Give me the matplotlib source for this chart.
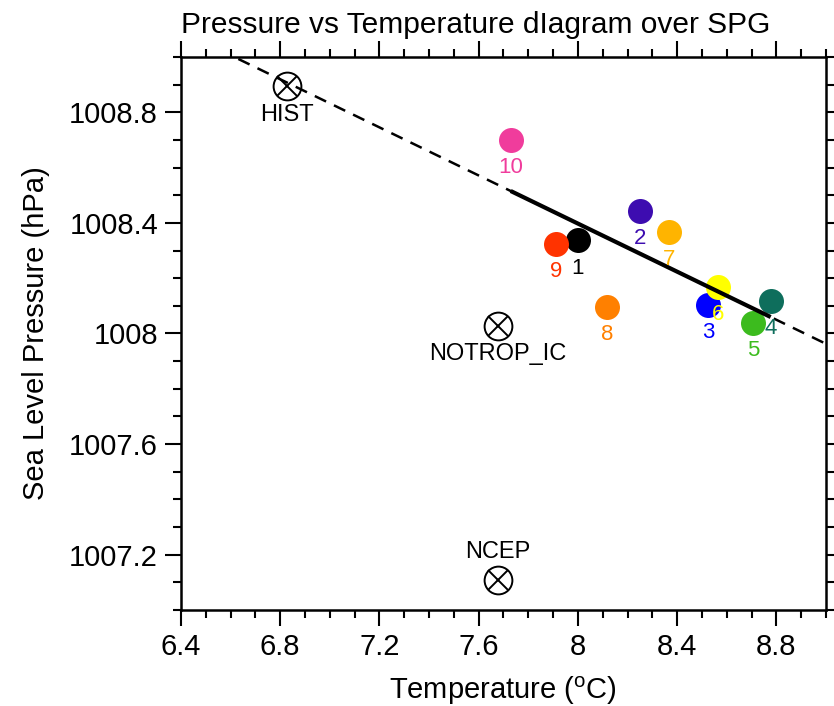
import numpy as np
import matplotlib
matplotlib.use('Agg')
import matplotlib.pyplot as plt
from matplotlib.ticker import FixedLocator, FuncFormatter

plt.rcParams['font.family'] = ['Liberation Sans', 'DejaVu Sans']
plt.rcParams['mathtext.fontset'] = 'custom'
plt.rcParams['mathtext.rm'] = 'Liberation Sans'

# ensemble members
run_names = ['1', '2', '3', '4', '5', '6', '7', '8', '9', '10']
run_temp = [8.00, 8.25, 8.525, 8.777, 8.707, 8.563, 8.367, 8.116, 7.911, 7.729]
run_slp = [1008.337, 1008.443, 1008.104, 1008.117, 1008.038, 1008.169,
           1008.368, 1008.095, 1008.323, 1008.700]
run_colors = ['#000000', '#3d0cb0', '#0000ff', '#0e6e5c', '#3cbb1e',
              '#ffff00', '#ffb400', '#ff8000', '#ff3300', '#f03c9c']

# reference experiments / reanalysis
ref_names = ['HIST', 'NOTROP_IC', 'NCEP']
ref_temp = [6.827, 7.678, 7.678]
ref_slp = [1008.895, 1008.027, 1007.108]

x_major = [6.4, 6.8, 7.2, 7.6, 8.0, 8.4, 8.8]
y_major = [1007.2, 1007.6, 1008.0, 1008.4, 1008.8]

fig = plt.figure(figsize=(8.34, 7.06), dpi=100)
ax = fig.add_axes([0.2170, 0.1360, 0.7734, 0.7833])
ax.set_xlim(6.4, 9.0)
ax.set_ylim(1007.0, 1009.0)

# regression line: dashed over the whole axis, solid over the members
slope, icpt = np.polyfit(run_temp, run_slp, 1)
xx = np.array([6.4, 9.0])
ax.plot(xx, slope * xx + icpt, color='black', lw=1.8, ls=(0, (5, 3.5)), zorder=3)
xs = np.array([min(run_temp), max(run_temp)])
ax.plot(xs, slope * xs + icpt, color='black', lw=3.0, solid_capstyle='butt', zorder=3)

for name, t, p, c in zip(run_names, run_temp, run_slp, run_colors):
    ax.plot(t, p, 'o', ms=18, color=c, mec='none', zorder=2)
    ax.annotate(name, (t, p), xytext=(0, -20), textcoords='offset points',
                ha='center', va='center', color=c, fontsize=16, zorder=4)

label_dy = {'HIST': -21, 'NOTROP_IC': -20, 'NCEP': 20}
for name, t, p in zip(ref_names, ref_temp, ref_slp):
    ax.plot(t, p, 'o', ms=20, mfc='none', mec='black', mew=1.4, zorder=2)
    ax.plot(t, p, 'x', ms=14, color='black', mew=1.4, zorder=2)
    ax.annotate(name, (t, p), xytext=(0, label_dy[name]), textcoords='offset points',
                ha='center', va='center', color='black', fontsize=17, zorder=4)

fmt = FuncFormatter(lambda v, pos: f'{v:g}')
ax.xaxis.set_major_locator(FixedLocator(x_major))
ax.yaxis.set_major_locator(FixedLocator(y_major))
ax.xaxis.set_minor_locator(FixedLocator(np.round(np.arange(6.4, 9.05, 0.1), 2)))
ax.yaxis.set_minor_locator(FixedLocator(np.round(np.arange(1007.0, 1009.05, 0.1), 2)))
ax.xaxis.set_major_formatter(fmt)
ax.yaxis.set_major_formatter(fmt)
ax.tick_params(which='both', direction='out', top=True, right=True, width=1.5,
               labelsize=21, colors='black')
ax.tick_params(which='major', length=11.5, pad=5)
ax.tick_params(which='minor', length=6)
for s in ax.spines.values():
    s.set_linewidth(1.8)

ax.set_xlabel('Temperature ($^{\\mathrm{o}}$C)', fontsize=21, labelpad=10)
ax.set_ylabel('Sea Level Pressure (hPa)', fontsize=21, labelpad=14)
ax.set_title('Pressure vs Temperature dIagram over SPG', loc='left', fontsize=21.5, pad=17)

fig.savefig('out.png', dpi=100)
